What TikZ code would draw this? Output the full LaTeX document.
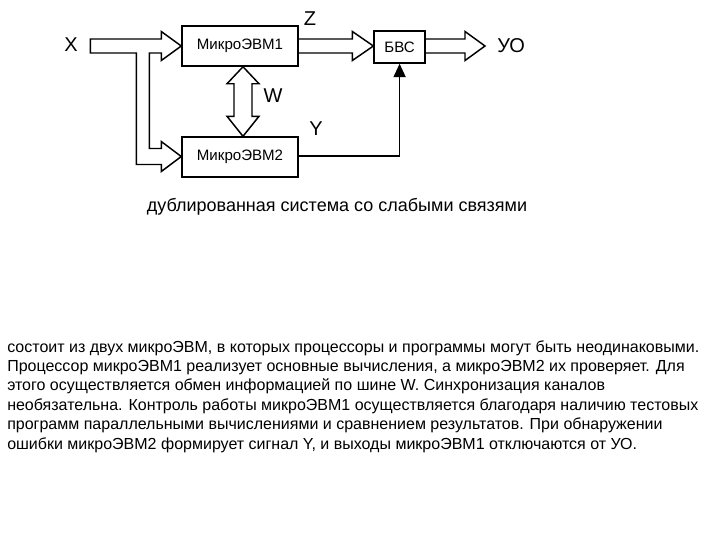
\documentclass[tikz,border=0pt]{standalone}
\usepackage{fontspec}
\setmainfont{Liberation Sans}
\usetikzlibrary{calc,arrows.meta}
\begin{document}
\begin{tikzpicture}[x=0.75pt,y=-0.75pt,
  blk/.style={draw,line width=1.1pt,inner sep=0pt,font=\fontsize{11.3}{13}\selectfont},
  hol/.style={draw,line width=1.1pt,line join=miter},
  lbl/.style={inner sep=0pt,font=\fontsize{15}{17}\selectfont},
  sig/.style={draw,line width=1.1pt,-{Triangle[length=10pt,width=9pt]}}]
\useasboundingbox (0,0) rectangle (720,540);
% blocks
\node[blk,minimum width=87pt,minimum height=30pt] (m1) at (240,46) {МикроЭВМ1};
\node[blk,minimum width=87pt,minimum height=30pt] (m2) at (240,157) {МикроЭВМ2};
\node[blk,minimum width=38.25pt,minimum height=24pt] (bvs) at (399.6,47) {БВС};
% labels
\node[lbl] (lx) at (71,45) {X};
\node[lbl] (lz) at (310,19) {Z};
\node[lbl] (lw) at (273,96) {W};
\node[lbl] (ly) at (316,129) {Y};
\node[lbl,anchor=west] (luo) at (497,46) {УО};
% X split hollow arrow
\coordinate (t1) at (m1.west);
\coordinate (t2) at ($(m2.west)+(0,-0.5)$);
\draw[hol] ($(t1)+(-91,-7)$) -- ($(t1)+(-20,-7)$) -- ($(t1)+(-20,-14.5)$) -- (t1)
  -- ($(t1)+(-20,14.5)$) -- ($(t1)+(-20,7)$) -- ($(t1)+(-32,7)$)
  -- ($(t2)+(-32,-8)$) -- ($(t2)+(-20,-8)$) -- ($(t2)+(-20,-15)$) -- (t2)
  -- ($(t2)+(-20,15)$) -- ($(t2)+(-20,8)$) -- ($(t2)+(-45,8)$)
  -- ($(t1)+(-45,7)$) -- ($(t1)+(-91,7)$) -- cycle;
% Z hollow arrow
\coordinate (zt) at (bvs.west |- m1.east);
\draw[hol] ($(m1.east)+(0,-7)$) -- ($(zt)+(-21,-7)$) -- ($(zt)+(-21,-14.5)$) -- (zt)
  -- ($(zt)+(-21,14.5)$) -- ($(zt)+(-21,7)$) -- ($(m1.east)+(0,7)$);
% output hollow arrow
\coordinate (ut) at (485,46);
\draw[hol] ($(bvs.east |- ut)+(0,-7)$) -- ($(ut)+(-20,-7)$) -- ($(ut)+(-20,-14.5)$) -- (ut)
  -- ($(ut)+(-20,14.5)$) -- ($(ut)+(-20,7)$) -- ($(bvs.east |- ut)+(0,7)$);
% W double hollow arrow
\coordinate (wa) at ($(m1.south)+(3,0)$);
\coordinate (wb) at ($(m2.north)+(3,0)$);
\draw[hol] (wa) -- ($(wa)+(16,17)$) -- ($(wa)+(9,17)$) -- ($(wb)+(9,-20)$) -- ($(wb)+(16,-20)$)
  -- (wb) -- ($(wb)+(-16,-20)$) -- ($(wb)+(-9,-20)$) -- ($(wa)+(-9,17)$) -- ($(wa)+(-16,17)$) -- cycle;
% Y signal
\draw[sig] ($(m2.east)+(0,-1)$) -| (bvs.south);
% caption
\node[inner sep=0pt,font=\fontsize{13.5}{16}\selectfont] (cap) at (337,207) {дублированная система со слабыми связями};
% body text
\node[inner sep=0pt,anchor=north west,align=left,font=\fontsize{12}{14.55}\selectfont] (body) at (7,340)
{состоит из двух микроЭВМ, в которых процессоры и программы могут быть неодинаковыми.\\
Процессор микроЭВМ1 реализует основные вычисления, а микроЭВМ2 их проверяет. Для\\
этого осуществляется обмен информацией по шине W. Синхронизация каналов\\
необязательна. Контроль работы микроЭВМ1 осуществляется благодаря наличию тестовых\\
программ параллельными вычислениями и сравнением результатов. При обнаружении\\
ошибки микроЭВМ2 формирует сигнал Y, и выходы микроЭВМ1 отключаются от УО.};
\end{tikzpicture}
\end{document}
